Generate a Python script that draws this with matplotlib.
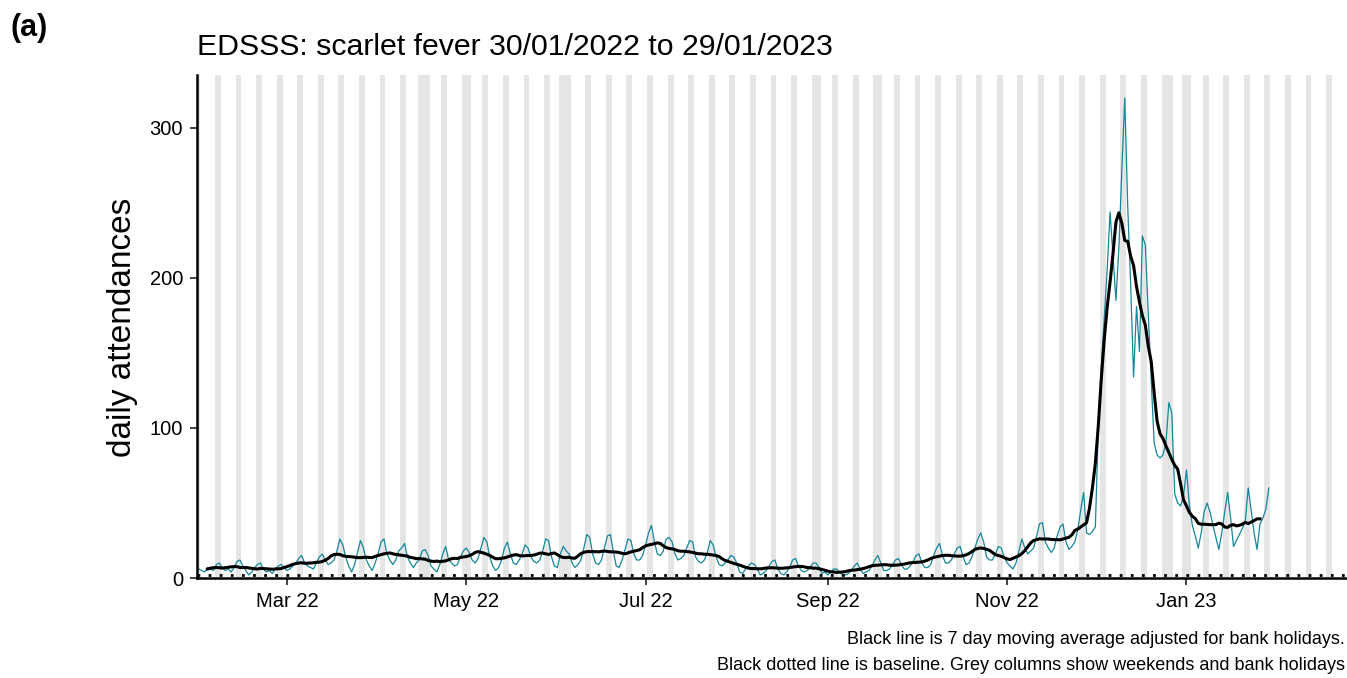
import matplotlib
matplotlib.use("Agg")
import matplotlib.pyplot as plt
import matplotlib.dates as mdates
import pandas as pd

# daily EDSSS scarlet fever attendances from 30/01/2022, one row per week (Sun..Sat)
start_date = "2022-01-30"
daily_attendances = [
    6, 5, 4, 7, 6, 5, 9,
    10, 7, 5, 6, 4, 7, 11,
    12, 8, 5, 2, 4, 7, 9,
    10, 6, 4, 5, 3, 6, 8,
    9, 7, 5, 6, 8, 10, 13,
    15, 10, 8, 7, 6, 10, 14,
    16, 12, 9, 10, 12, 18, 26,
    22, 14, 8, 4, 9, 17, 25,
    20, 12, 8, 5, 10, 16, 24,
    26, 16, 12, 9, 12, 18, 20,
    23, 14, 10, 7, 10, 12, 18,
    19, 15, 8, 6, 4, 9, 16,
    21, 12, 10, 8, 9, 14, 18,
    20, 17, 12, 10, 13, 20, 27,
    24, 14, 8, 5, 7, 12, 20,
    24, 16, 10, 9, 12, 16, 22,
    20, 14, 11, 10, 12, 18, 26,
    25, 14, 8, 7, 16, 21, 18,
    16, 10, 7, 9, 12, 20, 29,
    27, 16, 10, 9, 12, 20, 28,
    29, 18, 8, 7, 12, 19, 26,
    25, 16, 12, 12, 15, 22, 30,
    35, 24, 16, 15, 18, 26, 27,
    24, 16, 12, 13, 15, 20, 25,
    24, 14, 11, 10, 12, 17, 25,
    22, 14, 9, 8, 10, 12, 15,
    14, 10, 4, 3, 6, 8, 10,
    9, 6, 2, 3, 5, 8, 11,
    12, 6, 3, 2, 4, 7, 12,
    13, 8, 5, 4, 5, 7, 10,
    10, 7, 3, 4, 2, 4, 6,
    6, 4, 2, 2, 3, 5, 8,
    10, 6, 3, 4, 5, 8, 12,
    15, 10, 5, 5, 6, 9, 12,
    13, 9, 6, 6, 8, 11, 15,
    16, 10, 7, 7, 9, 15, 20,
    23, 15, 10, 10, 12, 16, 20,
    21, 14, 9, 10, 14, 20, 26,
    30, 24, 14, 12, 12, 16, 21,
    20, 14, 10, 8, 6, 10, 18,
    26, 20, 16, 18, 20, 28, 36,
    37, 24, 20, 17, 20, 28, 34,
    36, 24, 19, 21, 24, 32, 45,
    57, 30, 29, 31, 34, 100, 140,
    172, 205, 244, 215, 185, 220, 272,
    320, 248, 196, 134, 181, 151, 228,
    222, 176, 132, 90, 82, 80, 82,
    90, 117, 110, 56, 50, 48, 55,
    72, 48, 35, 28, 20, 30, 44,
    50, 44, 35, 27, 19, 30, 44,
    57, 40, 21, 25, 29, 33, 38,
    60, 45, 30, 19, 36, 40, 46,
    60,
]
bank_holidays = ["2022-04-15", "2022-04-18", "2022-05-02", "2022-06-02", "2022-06-03",
                 "2022-08-29", "2022-09-19", "2022-12-26", "2022-12-27", "2023-01-02"]
baseline_level = 2
shade_start = "2022-01-29"
shade_end = "2023-02-26"

dates = pd.date_range(start_date, periods=len(daily_attendances), freq="D")
counts = pd.Series(daily_attendances, index=dates)
moving_avg = counts.rolling(7, center=True).mean()

plt.rcParams["font.family"] = ["Liberation Sans", "DejaVu Sans"]
W, H = 1347, 678
fig = plt.figure(figsize=(W / 100, H / 100), dpi=100)
ax = fig.add_axes([197 / W, 1 - 578 / H, 1150 / W, (578 - 75) / H])

# grey columns for weekends and bank holidays
bh = pd.to_datetime(bank_holidays)
half = pd.Timedelta(hours=12)
for day in pd.date_range(shade_start, shade_end, freq="D"):
    if day.dayofweek >= 5 or day in bh:
        ax.axvspan(day - half, day + half, color="#e5e5e5", lw=0, zorder=0)

ax.plot(dates, counts, color="#14879a", lw=0.9, zorder=2)
ax.plot(dates, moving_avg, color="black", lw=2.2, zorder=3)
ax.axhline(baseline_level, color="black", ls=(0, (1, 3)), lw=2, zorder=3)

t0 = pd.Timestamp(start_date)
ax.set_xlim(t0 - pd.Timedelta(days=0.6), t0 + pd.Timedelta(days=390.6))
ax.set_ylim(0, 335.3)
ax.set_yticks([0, 100, 200, 300])
ax.xaxis.set_major_locator(mdates.MonthLocator(bymonth=[1, 3, 5, 7, 9, 11]))
ax.xaxis.set_major_formatter(mdates.DateFormatter("%b %y"))

for s in ["top", "right"]:
    ax.spines[s].set_visible(False)
for s in ["left", "bottom"]:
    ax.spines[s].set_linewidth(1.8)
    ax.spines[s].set_zorder(4)
ax.tick_params(direction="out", length=5, width=1.3, color="#333333",
               labelsize=14.5, labelcolor="black", pad=5)

fig.text(123 / W, 1 - 327 / H, "daily attendances", rotation=90,
         fontsize=24, ha="center", va="center")
fig.text(197 / W, 1 - 55 / H, "EDSSS: scarlet fever 30/01/2022 to 29/01/2023",
         fontsize=21.8, va="baseline")
fig.text(10 / W, 1 - 36 / H, "(a)", fontsize=22, fontweight="bold", va="baseline")
fig.text(1345 / W, 1 - 644 / H, "Black line is 7 day moving average adjusted for bank holidays.",
         fontsize=13, ha="right", va="baseline")
fig.text(1345 / W, 1 - 670 / H,
         "Black dotted line is baseline. Grey columns show weekends and bank holidays",
         fontsize=13, ha="right", va="baseline")

fig.savefig("out.png", dpi=100)
